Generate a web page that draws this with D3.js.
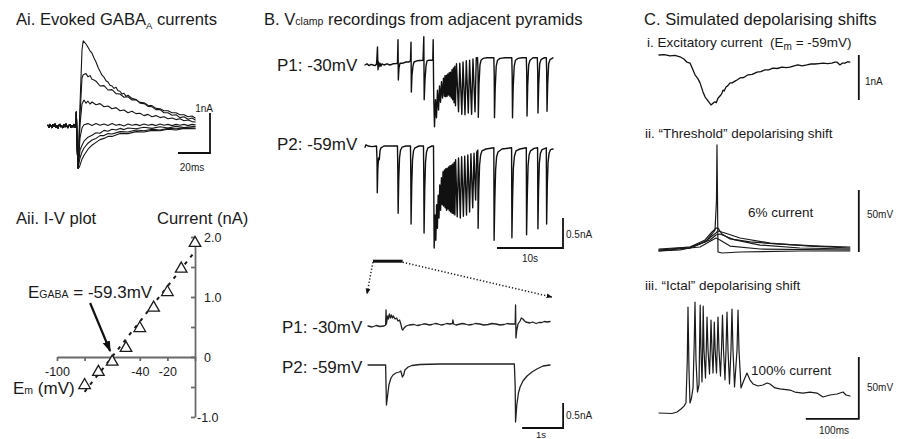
<!DOCTYPE html>
<html><head><meta charset="utf-8">
<script src="https://cdn.jsdelivr.net/npm/d3@7"></script>
<style>
body{margin:0;background:#fff}
svg{display:block}
text{font-family:"Liberation Sans",Arial,sans-serif;fill:#1a1a1a}
</style>
</head><body>
<script>
// ---------------- DATA ----------------
// Ai: evoked GABA-A currents (time ms, current nA)
const aiBaseline = [[0,0.02],[0.625,-0.03],[1.25,0.04],[1.875,0],[2.5,-0.04],[3.125,0.03],[3.75,-0.01],[4.375,0.05],[5,-0.03],[5.625,0.01],[6.25,-0.05],[6.875,0.02],[7.5,0.04],[8.125,-0.02],[8.75,0],[9.375,-0.04],[10,0.03],[10.625,-0.02],[11.25,0.05],[11.875,-0.01],[12.5,-0.04],[13.125,0.02],[13.75,0.03],[14.375,-0.03],[15,0.01],[15.625,-0.02],[16.25,0.04],[16.875,-0.03],[17.5,0],[17.7,0.35],[18.3,-0.6],[18.8,-1.05]];
const aiT1 = [[18.8,-1.05],[20,0.53],[21.25,1.9],[22,2.13],[23.75,2.05],[25,1.97],[26.25,1.88],[27.5,1.82],[28.75,1.7],[30,1.6],[31.25,1.47],[32.5,1.37],[33.75,1.27],[35,1.22],[36.25,1.13],[37.5,1.1],[38.75,1.02],[40,1.0],[41.25,0.94],[42.5,0.97],[43.75,0.88],[45,0.87],[46.25,0.8],[47.5,0.82],[48.75,0.74],[50,0.77],[52.5,0.69],[55,0.66],[57.5,0.59],[60,0.58],[62.5,0.52],[65,0.51],[67.5,0.44],[70,0.43],[72.5,0.38],[75,0.38],[77.5,0.33],[80,0.33],[82.5,0.28],[85,0.28],[87.5,0.23],[90,0.25],[92,0.2]];
const aiT2 = [[18.8,-1.05],[20,0.28],[21.25,1.2],[22,1.28],[23.75,1.31],[25,1.23],[26.25,1.26],[27.5,1.17],[28.75,1.15],[30,1.12],[32.5,1.0],[35,1.01],[37.5,0.9],[40,0.91],[42.5,0.81],[45,0.8],[47.5,0.72],[50,0.73],[52.5,0.65],[55,0.66],[57.5,0.57],[60,0.56],[62.5,0.49],[65,0.48],[67.5,0.41],[70,0.41],[72.5,0.33],[75,0.33],[77.5,0.27],[80,0.28],[82.5,0.21],[85,0.23],[87.5,0.17],[90,0.2],[92,0.15]];
const aiT3 = [[18.8,-1.05],[20,0.03],[21.25,0.55],[22.5,0.65],[23.75,0.57],[25,0.62],[26.25,0.55],[27.5,0.6],[30,0.53],[32.5,0.56],[35,0.48],[37.5,0.5],[40,0.43],[42.5,0.46],[45,0.38],[47.5,0.4],[50,0.33],[52.5,0.37],[55,0.31],[57.5,0.32],[60,0.26],[62.5,0.29],[65,0.23],[67.5,0.26],[70,0.21],[72.5,0.23],[75,0.18],[77.5,0.2],[80,0.16],[82.5,0.18],[85,0.13],[87.5,0.15],[90,0.11],[92,0.1]];
const aiT4 = [[18.8,-1.05],[20,-0.3],[21.25,-0.05],[22.5,0.03],[25,0.06],[27.5,0.01],[30,0.06],[32.5,0.02],[35,0.05],[37.5,0.01],[40,0.06],[42.5,0.02],[45,0.04],[47.5,0.0],[50,0.05],[52.5,0.02],[55,0.04],[57.5,0.01],[60,0.05],[62.5,0.02],[65,0.04],[67.5,0.01],[70,0.05],[72.5,0.02],[75,0.04],[77.5,0.01],[80,0.04],[82.5,0.02],[85,0.04],[87.5,0.01],[90,0.04],[92,0.03]];
const aiT5 = [[18.8,-1.05],[20,-0.6],[21.25,-0.48],[22.5,-0.38],[25,-0.28],[27.5,-0.23],[30,-0.17],[32.5,-0.18],[35,-0.11],[37.5,-0.13],[40,-0.08],[42.5,-0.1],[45,-0.06],[47.5,-0.09],[50,-0.05],[55,-0.07],[60,-0.03],[65,-0.06],[70,-0.02],[75,-0.05],[80,-0.01],[85,-0.04],[92,-0.01]];
const aiT6 = [[18.8,-1.05],[19.5,-0.9],[20,-0.8],[21.25,-0.65],[22.5,-0.55],[25,-0.43],[27.5,-0.35],[30,-0.31],[32.5,-0.24],[35,-0.24],[37.5,-0.19],[40,-0.2],[45,-0.14],[50,-0.15],[55,-0.1],[60,-0.12],[65,-0.08],[70,-0.1],[75,-0.06],[80,-0.07],[85,-0.05],[92,-0.05]];
const aiT7 = [[18.8,-1.05],[19.5,-1.03],[20,-0.98],[21.25,-0.83],[22.5,-0.73],[25,-0.58],[27.5,-0.48],[30,-0.41],[32.5,-0.34],[35,-0.31],[37.5,-0.26],[40,-0.26],[45,-0.19],[50,-0.19],[55,-0.14],[60,-0.15],[65,-0.11],[70,-0.12],[75,-0.08],[80,-0.1],[85,-0.06],[92,-0.07]];
const aiTraces = [aiT1, aiT2, aiT3, aiT4, aiT5, aiT6, aiT7];

// Aii: I-V plot
const ivVm = [-80,-70,-60,-50,-40,-30,-20,-10,0];
const ivCurrent = [-0.47,-0.25,-0.08,0.15,0.48,0.82,1.08,1.47,1.9];
const ivFit = [[-80,-0.58],[0,1.76]];
const ivXTicks = [-100,-80,-60,-40,-20,0];
const ivXLabels = {"-100":"-100","-40":"-40","-20":"-20"};
const ivYTicks = [-1,-0.5,0,0.5,1,1.5,2];
const ivYLabels = {"-1":"-1.0","0":"0","1":"1.0","2":"2.0"};
const egabaArrow = [[-76,0.9],[-61.5,0.1]];

// B upper: time s, current nA
const bP1 = [[0,0],[0.3,0.02],[0.61,-0.01],[0.91,0.01],[1.21,0],[1.52,-0.01],[1.74,0.01],
[1.82,0.15],[1.89,0.3],[1.97,-0.08],[2.05,0.05],[2.12,-0.03],[2.27,0.03],[2.42,-0.02],[2.58,0.02],
[2.88,0],[3.33,0.02],[3.79,0],[4.24,0.02],[4.7,0.025],[4.92,0.03],
[5.0,0.42],[5.05,-0.25],[5.15,-0.05],[5.3,0.03],[5.76,0.03],[6.21,0.05],[6.67,0.05],[6.89,0.07],
[6.97,0.38],[7.02,-0.45],[7.12,-0.17],[7.27,-0.02],[7.42,0.05],[7.88,0.07],[8.33,0.075],[8.79,0.08],
[8.91,0.47],[8.97,-0.58],[9.09,-0.25],[9.24,-0.02],[9.39,0.07],[9.7,0.08],[10.0,0.08],[10.27,0.08],
[10.33,0.42],[10.41,-0.5],[10.53,-1.03],[10.68,-0.58],[10.83,-0.88],[10.98,-0.42],[11.14,-0.75],[11.29,-0.35],[11.44,-0.62],[11.59,-0.28],[11.74,-0.55],[11.89,-0.22],
[12.02,-0.52],[12.12,-0.18],[12.23,-0.53],[12.33,-0.17],[12.44,-0.52],[12.55,-0.15],[12.65,-0.5],[12.76,-0.13],[12.86,-0.52],[12.97,-0.12],[13.08,-0.55],[13.18,-0.08],[13.29,-0.58],[13.39,-0.05],[13.5,-0.63],[13.61,-0.02],[13.71,-0.68],
[13.86,0.02],[14.17,-0.78],[14.36,0.03],[14.67,-0.82],[14.85,0.05],[15.15,-0.83],[15.35,0.07],[15.65,-0.8],[15.85,0.08],[16.15,-0.82],[16.36,0.1],[16.67,-0.78],[16.86,0.12],
[17.05,0.12],[17.12,-0.08],[17.17,-0.87],[17.27,-0.33],[17.42,0],[17.58,0.08],[17.88,0.11],[18.48,0.12],[19.09,0.12],[19.52,0.12],
[19.58,-0.17],[19.62,-0.88],[19.73,-0.38],[19.88,-0.02],[20.08,0.08],[20.45,0.11],[21.21,0.12],[21.97,0.12],[22.24,0.12],
[22.3,-0.17],[22.35,-0.88],[22.45,-0.38],[22.61,-0.02],[22.8,0.08],[23.18,0.11],[23.79,0.12],[24.44,0.12],
[24.5,-0.12],[24.55,-0.85],[24.65,-0.35],[24.8,0],[25.0,0.08],[25.45,0.12],[26.11,0.12],
[26.17,-0.12],[26.21,-0.8],[26.32,-0.33],[26.47,0.02],[26.67,0.09],[27.12,0.12],[27.47,0.12],
[27.53,-0.12],[27.58,-0.77],[27.68,-0.32],[27.83,0.02],[28.03,0.09],[28.48,0.12]];

const bP2 = [[0,-0.02],[0.15,0.02],[0.45,0],[1.06,-0.01],[1.74,0],
[1.82,-0.23],[1.86,-0.78],[1.94,-0.4],[2.05,-0.2],[2.17,-0.23],[2.27,-0.08],[2.42,-0.03],[2.88,0],[3.79,0],[4.92,0],
[4.97,-0.4],[5.02,-1.12],[5.11,-0.57],[5.23,-0.2],[5.38,-0.07],[5.61,-0.02],[6.21,0],[6.89,0],
[6.94,-0.48],[6.98,-1.3],[7.08,-0.65],[7.2,-0.23],[7.35,-0.08],[7.58,-0.03],[8.18,0],[8.86,0],
[8.91,-0.57],[8.95,-1.45],[9.05,-0.73],[9.17,-0.27],[9.32,-0.1],[9.55,-0.03],[10.15,0],[10.38,0],
[10.42,-0.73],[10.48,-1.7],[10.61,-1.15],[10.73,-1.57],[10.85,-0.98],[10.97,-1.37],[11.09,-0.82],[11.21,-1.2],[11.33,-0.65],[11.45,-1.07],[11.58,-0.53],[11.7,-0.98],[11.82,-0.43],
[11.92,-1.0],[12.03,-0.4],[12.14,-1.03],[12.24,-0.38],[12.35,-1.07],[12.45,-0.37],[12.56,-1.05],[12.67,-0.35],[12.77,-1.08],[12.88,-0.33],[12.98,-1.1],[13.09,-0.32],[13.2,-1.12],[13.3,-0.3],[13.41,-1.13],[13.52,-0.27],[13.62,-1.15],[13.73,-0.23],
[13.97,-1.18],[14.17,-0.2],[14.44,-1.2],[14.64,-0.18],[14.91,-1.17],[15.11,-0.17],[15.38,-1.15],[15.58,-0.15],[15.85,-1.1],[16.05,-0.13],[16.32,-1.03],[16.52,-0.12],[16.76,-0.9],[16.94,-0.1],
[17.09,-0.07],[17.14,-1.37],[17.24,-0.73],[17.36,-0.32],[17.52,-0.15],[17.73,-0.08],[18.33,-0.05],[19.52,-0.03],
[19.56,-1.57],[19.67,-0.9],[19.79,-0.4],[19.94,-0.18],[20.15,-0.1],[20.76,-0.05],[22.21,-0.03],
[22.26,-1.53],[22.36,-0.87],[22.48,-0.37],[22.64,-0.17],[22.88,-0.08],[23.48,-0.05],[24.44,-0.03],
[24.48,-1.48],[24.59,-0.82],[24.71,-0.33],[24.86,-0.15],[25.08,-0.08],[25.61,-0.04],[26.15,-0.03],
[26.2,-1.38],[26.3,-0.73],[26.42,-0.28],[26.58,-0.12],[26.82,-0.06],[27.47,-0.03],
[27.52,-1.3],[27.62,-0.65],[27.74,-0.27],[27.89,-0.12],[28.11,-0.06],[28.48,-0.05]];
const bZoomWindow = [1.2, 5.7];

// B lower (expanded, time s, current nA)
const bLP1 = [[0,0],[0.1,-0.02],[0.2,0.01],[0.29,-0.01],[0.39,0],[0.43,0.02],[0.44,0.32],[0.45,0.04],[0.48,0.2],[0.5,0.14],[0.52,0.24],[0.55,0.16],[0.57,0.22],[0.6,0.16],[0.62,0.2],[0.66,0.14],[0.7,0.16],[0.73,0.1],[0.77,0.12],[0.8,0.04],[0.83,-0.06],[0.85,-0.08],[0.88,-0.04],[0.93,0],[1.0,0.02],[1.12,0.03],[1.2,0.01],[1.27,0.02],[1.35,0.04],[1.41,0.04],[1.5,0.02],[1.56,0.03],[1.64,0.05],[1.71,0.04],[1.78,0.02],[1.85,0.03],[1.92,0.05],[2.0,0.04],[2.06,0.05],[2.07,0.12],[2.09,0.04],[2.15,0.02],[2.2,0.03],[2.3,0.05],[2.37,0.04],[2.45,0.02],[2.54,0.03],[2.62,0.05],[2.73,0.04],[2.82,0.02],[2.93,0.03],[3.02,0.05],[3.12,0.04],[3.22,0.02],[3.32,0.03],[3.4,0.05],[3.46,0.04],[3.59,0.04],[3.6,0.42],[3.61,-0.24],[3.63,-0.08],[3.66,0.04],[3.71,0.1],[3.74,0.16],[3.78,0.14],[3.82,0.1],[3.85,0.08],[3.95,0.06],[4.02,0.08],[4.1,0.05],[4.17,0.07],[4.24,0.07],[4.3,0.09],[4.37,0.08],[4.44,0.09]];
const bLP2 = [[0,0],[0.17,0],[0.43,0],[0.44,-0.4],[0.45,-0.8],[0.48,-0.6],[0.51,-0.4],[0.56,-0.26],[0.61,-0.2],[0.68,-0.16],[0.76,-0.14],[0.8,-0.12],[0.84,-0.24],[0.87,-0.2],[0.9,-0.1],[0.98,-0.04],[1.07,-0.01],[1.27,0.01],[1.76,0.02],[2.49,0.02],[3.22,0.02],[3.57,0.02],[3.59,-0.4],[3.6,-1.14],[3.63,-0.8],[3.67,-0.56],[3.71,-0.44],[3.78,-0.32],[3.88,-0.22],[4.0,-0.14],[4.12,-0.08],[4.27,-0.02],[4.44,0]];

// C i: excitatory current (ms, nA)
const cI = [[0,0],[10,0.01],[20.8,-0.02],[30,-0.01],[39.6,-0.04],[47,-0.09],[52.8,-0.16],[58.5,-0.18],[64,-0.33],[68,-0.44],[73.6,-0.53],[77.4,-0.62],[83,-0.82],[86.8,-0.93],[92.5,-1.02],[98,-1.11],[101.9,-1.07],[105.7,-1.04],[108,-1.06],[111.3,-0.96],[115,-0.91],[118,-0.87],[120.8,-0.78],[123,-0.8],[126.4,-0.71],[130,-0.68],[134,-0.62],[138,-0.62],[143.4,-0.58],[148,-0.55],[152.8,-0.51],[160,-0.5],[168,-0.44],[176,-0.43],[185,-0.38],[192,-0.37],[200,-0.33],[207,-0.33],[215,-0.29],[223,-0.3],[232,-0.27],[240,-0.28],[247,-0.27],[255,-0.24],[262,-0.22],[270,-0.24],[279,-0.22],[287,-0.2],[294,-0.2],[302,-0.19],[309.4,-0.18],[318,-0.19],[326,-0.18],[332,-0.16],[336,-0.16],[341.5,-0.22],[346,-0.18],[351,-0.18],[356,-0.15],[360,-0.16]];
// C ii: threshold shift, 5 sweeps (ms, mV)
const cII = [
 [[0,-70.8],[39.6,-70],[58.5,-68.4],[77.4,-65.2],[90.6,-61.9],[100,-57.1],[105.7,-53.9],[108.5,-29.7],[109.4,14.7],[110.4,-29.7],[111.3,-71.6],[118.9,-72.4],[152.8,-71.6],[266,-70.8],[360,-70.8]],
 [[0,-70],[58.5,-67.6],[86.8,-61.9],[100,-55.5],[107.5,-52.3],[111.3,-52.3],[118.9,-57.1],[134,-61.1],[171.7,-63.5],[228.3,-65.2],[303.8,-66.8],[360,-67.6]],
 [[0,-69.2],[58.5,-67.6],[86.8,-63.5],[100,-58.7],[107.5,-56.3],[111.3,-54.7],[124.5,-56.3],[152.8,-60.3],[209.4,-64.4],[285,-66.8],[360,-68.4]],
 [[0,-70],[58.5,-68.4],[96.2,-61.9],[107.5,-57.9],[115,-57.1],[143.4,-61.9],[190.6,-66],[266,-68.4],[360,-69.2]],
 [[0,-70.8],[77.4,-67.6],[107.5,-60.3],[115,-61.9],[134,-66.8],[190.6,-69.2],[360,-70]]
];
// C iii: ictal shift (ms, mV)
const cIII = [[0,-70],[24.5,-70.4],[34,-69.2],[41.5,-66.8],[47.2,-64.4],[50.9,-61.9],[53.4,-27.3],[54.7,15.4],[56.6,-35.3],[58.5,-61.9],[61.3,-57.9],[64.2,-49.8],[66.6,-11.2],[67.9,19.5],[69.8,-27.3],[72.6,-53.1],[75.5,-47.4],[76.4,-19.2],[77.7,17.1],[79.2,-19.2],[81.1,-45],[82.1,-27.3],[83.4,16.2],[84.9,-19.2],[87.7,-41.8],[89.2,-19.2],[90.6,7.4],[92.5,-19.2],[95.3,-38.6],[96.8,-19.2],[98.1,5],[100,-19.2],[101.9,-37.8],[103.2,-19.2],[104.3,3.4],[106,-19.2],[108.5,-37.8],[110,-15.2],[111.3,7.4],[113.2,-19.2],[116,-40.2],[117.9,-19.2],[119.8,9],[121.7,-19.2],[124.5,-43.4],[126.4,-19.2],[128.3,11.4],[130.2,-19.2],[133,-46.6],[135.8,-19.2],[137.7,13.8],[139.6,-19.2],[142.5,-49],[147.2,-19.2],[149.1,13],[150.9,-19.2],[154.7,-49.8],[160.4,-43.4],[166,-37.8],[171.7,-43.4],[177.4,-46.6],[186.8,-48.2],[196.2,-47.4],[203.8,-45.8],[209.4,-46.6],[218.9,-49.8],[228.3,-50.6],[247.2,-51.5],[256.6,-53.1],[271.7,-53.9],[284.9,-53.1],[298.1,-53.9],[309.4,-57.1],[322.6,-55.5],[335.8,-54.7],[347.2,-53.1],[352.8,-55.5],[360.4,-56.3]];

// ---------------- SVG ----------------
const W = 904, H = 439;
const svg = d3.select("body").append("svg").attr("width", W).attr("height", H);
svg.append("rect").attr("width", W).attr("height", H).attr("fill", "#fff");
const defs = svg.append("defs");
defs.append("marker").attr("id","headBig").attr("viewBox","0 0 10 10").attr("refX",9).attr("refY",5)
  .attr("markerWidth",5).attr("markerHeight",5).attr("markerUnits","strokeWidth").attr("orient","auto")
  .append("path").attr("d","M0,1.5L10,5L0,8.5Z").attr("fill","#111");
defs.append("marker").attr("id","headSmall").attr("viewBox","0 0 10 10").attr("refX",9).attr("refY",5)
  .attr("markerWidth",4).attr("markerHeight",4).attr("markerUnits","strokeWidth").attr("orient","auto")
  .append("path").attr("d","M0,1L10,5L0,9Z").attr("fill","#111");

function trace(data, xs, ys, w, col) {
  return svg.append("path").datum(data)
    .attr("d", d3.line().x(d => xs(d[0])).y(d => ys(d[1])))
    .attr("fill","none").attr("stroke", col || "#111").attr("stroke-width", w)
    .attr("stroke-linejoin","round").attr("stroke-linecap","round");
}
function txt(x, y, s, size, anchor) {
  return svg.append("text").attr("x", x).attr("y", y).attr("font-size", size)
    .attr("text-anchor", anchor || "start").text(s);
}
function bar(pts, w) {
  svg.append("path").attr("d", d3.line()(pts)).attr("fill","none")
    .attr("stroke","#111").attr("stroke-width", w || 1.8);
}

// ---------- Panel Ai ----------
const xAi = d3.scaleLinear().domain([0, 92]).range([48, 195.2]);
const yAi = d3.scaleLinear().domain([0, 1]).range([126, 86]);
aiTraces.forEach(tr => trace(aiBaseline.concat(tr), xAi, yAi, 1.1, "#151515"));
{
  const tc = 101.25, ic = -0.675;
  bar([[xAi(tc), yAi(ic + 1)], [xAi(tc), yAi(ic)], [xAi(tc - 20), yAi(ic)]]);
}
const tAi = txt(16, 25, "Ai. Evoked GABA", 16.6);
tAi.append("tspan").attr("font-size", 9.5).attr("dy", 4).text("A");
tAi.append("tspan").attr("dy", -4).text(" currents");
txt(213, 112, "1nA", 10, "end");
txt(192, 171, "20ms", 10, "middle");

// ---------- Panel Aii ----------
const xIV = d3.scaleLinear().domain([-100, 0]).range([57, 195]);
const yIV = d3.scaleLinear().domain([-1, 2]).range([417, 237]);
txt(16, 224, "Aii. I-V plot", 16.6);
txt(157, 224, "Current (nA)", 16.6);
const gx = svg.append("g").attr("transform", `translate(0,${yIV(0)})`)
  .call(d3.axisBottom(xIV).tickValues(ivXTicks).tickSize(4).tickSizeOuter(0).tickPadding(6)
    .tickFormat(d => ivXLabels[String(d)] || ""));
const gy = svg.append("g").attr("transform", `translate(${xIV(0)},0)`)
  .call(d3.axisRight(yIV).tickValues(ivYTicks).tickSize(-4).tickSizeOuter(0).tickPadding(9)
    .tickFormat(d => ivYLabels[String(d)] || ""));
[gx, gy].forEach(g => {
  g.selectAll("path,line").attr("stroke","#6a6a6a").attr("stroke-width",1.8);
  g.selectAll("text").attr("font-size",12.5).attr("fill","#1a1a1a").attr("font-family","Liberation Sans, Arial, sans-serif");
});
gy.selectAll(".tick text").filter(d => d < 0).attr("x", 2);
// fit line
svg.append("path").attr("d", d3.line().x(d => xIV(d[0])).y(d => yIV(d[1]))(ivFit))
  .attr("stroke","#1a1a1a").attr("stroke-width",2).attr("stroke-dasharray","3.5,5.5").attr("fill","none");
// triangles
svg.selectAll(".tri").data(ivVm.map((v, i) => [v, ivCurrent[i]])).enter().append("path")
  .attr("transform", d => `translate(${xIV(d[0])},${yIV(d[1])})`)
  .attr("d", d3.symbol(d3.symbolTriangle, 58)).attr("fill","#fff").attr("stroke","#1a1a1a").attr("stroke-width",1.3);
// arrow
svg.append("path").attr("d", d3.line().x(d => xIV(d[0])).y(d => yIV(d[1]))(egabaArrow))
  .attr("stroke","#111").attr("stroke-width",2.2).attr("fill","none").attr("marker-end","url(#headBig)");
const tE = txt(28, 298, "E", 17);
tE.append("tspan").attr("font-size", 10.5).text("GABA");
tE.append("tspan").text(" = -59.3mV");
const tEm = txt(13, 394, "E", 17);
tEm.append("tspan").attr("font-size", 10.5).text("m");
tEm.append("tspan").text(" (mV)");

// ---------- Panel B ----------
const tB = txt(264, 25, "B. V", 16.6);
tB.append("tspan").attr("font-size", 10.5).text("clamp");
tB.append("tspan").text(" recordings from adjacent pyramids");

const xBU = d3.scaleLinear().domain([0, 28.5]).range([365, 553.1]);
const yP1U = d3.scaleLinear().domain([0, -1]).range([65, 125]);
const yP2U = d3.scaleLinear().domain([0, -1]).range([146, 206]);
txt(277, 71, "P1: -30mV", 17);
txt(277, 150, "P2: -59mV", 17);
trace(bP1, xBU, yP1U, 1.4);
trace(bP2, xBU, yP2U, 1.4);
{
  const tc = 30.0, ic = -1.7;
  bar([[xBU(tc), yP2U(ic + 0.5)], [xBU(tc), yP2U(ic)], [xBU(tc - 10), yP2U(ic)]]);
  txt(566, 238, "0.5nA", 10);
  txt(530, 262, "10s", 10, "middle");
}
// zoom window marker
const yMark = yP2U(-1.92);
svg.append("line").attr("x1", xBU(bZoomWindow[0])).attr("x2", xBU(bZoomWindow[1]))
  .attr("y1", yMark).attr("y2", yMark).attr("stroke","#111").attr("stroke-width",3);

const xBL = d3.scaleLinear().domain([0, 4.44]).range([368, 550]);
const yP1L = d3.scaleLinear().domain([0, -1]).range([326, 376]);
const yP2L = d3.scaleLinear().domain([0, -1]).range([365, 415]);
svg.append("line").attr("x1", xBU(bZoomWindow[0])).attr("y1", yMark + 1)
  .attr("x2", xBL(0) - 1).attr("y2", 294).attr("stroke","#222").attr("stroke-width",1.5)
  .attr("stroke-dasharray","1.3,2").attr("marker-end","url(#headSmall)");
svg.append("line").attr("x1", xBU(bZoomWindow[1])).attr("y1", yMark + 1)
  .attr("x2", xBL(4.44) + 2).attr("y2", 297).attr("stroke","#222").attr("stroke-width",1.5)
  .attr("stroke-dasharray","1.3,2").attr("marker-end","url(#headSmall)");

txt(282, 333, "P1: -30mV", 17);
txt(282, 373, "P2: -59mV", 17);
trace(bLP1, xBL, yP1L, 1.3, "#222");
trace(bLP2, xBL, yP2L, 1.3, "#222");
{
  const tc = 4.76, ic = -1.26;
  bar([[xBL(tc), yP2L(ic + 0.5)], [xBL(tc), yP2L(ic)], [xBL(tc - 1), yP2L(ic)]]);
  txt(566, 419, "0.5nA", 10);
  txt(541, 438, "1s", 9.5, "middle");
}

// ---------- Panel C ----------
txt(644, 25, "C. Simulated depolarising shifts", 16.6);
const xC = d3.scaleLinear().domain([0, 360]).range([659, 849.8]);
const yCi = d3.scaleLinear().domain([0, -1]).range([55, 100]);
const yCii = d3.scaleLinear().domain([-70, 0]).range([250, 163.2]);
const yCiii = d3.scaleLinear().domain([-70, 0]).range([413, 326.2]);

const tCi = txt(647, 47, "i. Excitatory current\u00a0 (E", 13.5);
tCi.append("tspan").attr("font-size", 10).attr("dy", 3).text("m");
tCi.append("tspan").attr("dy", -3).text(" = -59mV)");
trace(cI, xC, yCi, 1.3);
bar([[xC(377), yCi(0)], [xC(377), yCi(-1)]]);
txt(865, 85, "1nA", 10);

txt(645, 138, "ii. \u201cThreshold\u201d depolarising shift", 13.5);
cII.forEach(tr => trace(tr, xC, yCii, 1.2, "#1a1a1a"));
bar([[xC(377), yCii(-71.6)], [xC(377), yCii(-21.6)]]);
txt(748, 217, "6% current", 13.5);
txt(867, 218, "50mV", 10);

txt(645, 290, "iii. \u201cIctal\u201d depolarising shift", 13.5);
trace(cIII, xC, yCiii, 1.2, "#1a1a1a");
bar([[xC(377), yCiii(-24.8)], [xC(377), yCiii(-74.8)], [xC(277), yCiii(-74.8)]]);
txt(751, 375, "100% current", 13.5);
txt(867, 391, "50mV", 10);
txt(834, 434, "100ms", 10, "middle");
</script>
</body></html>
